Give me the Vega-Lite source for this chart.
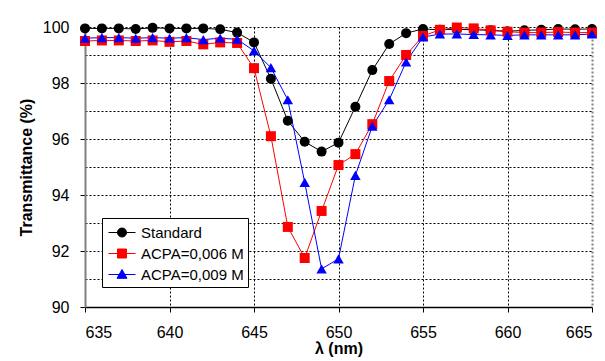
{
  "$schema": "https://vega.github.io/schema/vega-lite/v6.json",
  "width": 507,
  "height": 280,
  "autosize": "none",
  "padding": {"left": 85, "top": 27, "right": 13, "bottom": 54},
  "background": "white",
  "config": {
    "font": "Liberation Sans",
    "view": {"stroke": null},
    "axis": {"labelFont": "Liberation Sans", "titleFont": "Liberation Sans", "labelFontSize": 16, "titleFontSize": 16, "titleFontWeight": "bold", "labelColor": "black", "titleColor": "black"}
  },
  "data": {"values": [
    {"lambda": 635, "T": 99.95, "series": "Standard"},
    {"lambda": 636, "T": 99.95, "series": "Standard"},
    {"lambda": 637, "T": 99.95, "series": "Standard"},
    {"lambda": 638, "T": 99.93, "series": "Standard"},
    {"lambda": 639, "T": 99.97, "series": "Standard"},
    {"lambda": 640, "T": 99.95, "series": "Standard"},
    {"lambda": 641, "T": 99.95, "series": "Standard"},
    {"lambda": 642, "T": 99.95, "series": "Standard"},
    {"lambda": 643, "T": 99.92, "series": "Standard"},
    {"lambda": 644, "T": 99.8, "series": "Standard"},
    {"lambda": 645, "T": 99.45, "series": "Standard"},
    {"lambda": 646, "T": 98.15, "series": "Standard"},
    {"lambda": 647, "T": 96.65, "series": "Standard"},
    {"lambda": 648, "T": 95.9, "series": "Standard"},
    {"lambda": 649, "T": 95.55, "series": "Standard"},
    {"lambda": 650, "T": 95.87, "series": "Standard"},
    {"lambda": 651, "T": 97.15, "series": "Standard"},
    {"lambda": 652, "T": 98.46, "series": "Standard"},
    {"lambda": 653, "T": 99.39, "series": "Standard"},
    {"lambda": 654, "T": 99.78, "series": "Standard"},
    {"lambda": 655, "T": 99.93, "series": "Standard"},
    {"lambda": 656, "T": 99.9, "series": "Standard"},
    {"lambda": 657, "T": 99.92, "series": "Standard"},
    {"lambda": 658, "T": 99.9, "series": "Standard"},
    {"lambda": 659, "T": 99.88, "series": "Standard"},
    {"lambda": 660, "T": 99.85, "series": "Standard"},
    {"lambda": 661, "T": 99.88, "series": "Standard"},
    {"lambda": 662, "T": 99.9, "series": "Standard"},
    {"lambda": 663, "T": 99.93, "series": "Standard"},
    {"lambda": 664, "T": 99.92, "series": "Standard"},
    {"lambda": 665, "T": 99.93, "series": "Standard"},
    {"lambda": 635, "T": 99.5, "series": "ACPA=0,006 M"},
    {"lambda": 636, "T": 99.52, "series": "ACPA=0,006 M"},
    {"lambda": 637, "T": 99.52, "series": "ACPA=0,006 M"},
    {"lambda": 638, "T": 99.5, "series": "ACPA=0,006 M"},
    {"lambda": 639, "T": 99.52, "series": "ACPA=0,006 M"},
    {"lambda": 640, "T": 99.47, "series": "ACPA=0,006 M"},
    {"lambda": 641, "T": 99.5, "series": "ACPA=0,006 M"},
    {"lambda": 642, "T": 99.38, "series": "ACPA=0,006 M"},
    {"lambda": 643, "T": 99.45, "series": "ACPA=0,006 M"},
    {"lambda": 644, "T": 99.43, "series": "ACPA=0,006 M"},
    {"lambda": 645, "T": 98.53, "series": "ACPA=0,006 M"},
    {"lambda": 646, "T": 96.1, "series": "ACPA=0,006 M"},
    {"lambda": 647, "T": 92.86, "series": "ACPA=0,006 M"},
    {"lambda": 648, "T": 91.75, "series": "ACPA=0,006 M"},
    {"lambda": 649, "T": 93.43, "series": "ACPA=0,006 M"},
    {"lambda": 650, "T": 95.07, "series": "ACPA=0,006 M"},
    {"lambda": 651, "T": 95.46, "series": "ACPA=0,006 M"},
    {"lambda": 652, "T": 96.53, "series": "ACPA=0,006 M"},
    {"lambda": 653, "T": 98.07, "series": "ACPA=0,006 M"},
    {"lambda": 654, "T": 99.0, "series": "ACPA=0,006 M"},
    {"lambda": 655, "T": 99.68, "series": "ACPA=0,006 M"},
    {"lambda": 656, "T": 99.9, "series": "ACPA=0,006 M"},
    {"lambda": 657, "T": 99.98, "series": "ACPA=0,006 M"},
    {"lambda": 658, "T": 99.95, "series": "ACPA=0,006 M"},
    {"lambda": 659, "T": 99.88, "series": "ACPA=0,006 M"},
    {"lambda": 660, "T": 99.83, "series": "ACPA=0,006 M"},
    {"lambda": 661, "T": 99.8, "series": "ACPA=0,006 M"},
    {"lambda": 662, "T": 99.8, "series": "ACPA=0,006 M"},
    {"lambda": 663, "T": 99.82, "series": "ACPA=0,006 M"},
    {"lambda": 664, "T": 99.8, "series": "ACPA=0,006 M"},
    {"lambda": 665, "T": 99.8, "series": "ACPA=0,006 M"},
    {"lambda": 635, "T": 99.6, "series": "ACPA=0,009 M"},
    {"lambda": 636, "T": 99.62, "series": "ACPA=0,009 M"},
    {"lambda": 637, "T": 99.62, "series": "ACPA=0,009 M"},
    {"lambda": 638, "T": 99.6, "series": "ACPA=0,009 M"},
    {"lambda": 639, "T": 99.62, "series": "ACPA=0,009 M"},
    {"lambda": 640, "T": 99.6, "series": "ACPA=0,009 M"},
    {"lambda": 641, "T": 99.62, "series": "ACPA=0,009 M"},
    {"lambda": 642, "T": 99.55, "series": "ACPA=0,009 M"},
    {"lambda": 643, "T": 99.6, "series": "ACPA=0,009 M"},
    {"lambda": 644, "T": 99.56, "series": "ACPA=0,009 M"},
    {"lambda": 645, "T": 99.15, "series": "ACPA=0,009 M"},
    {"lambda": 646, "T": 98.55, "series": "ACPA=0,009 M"},
    {"lambda": 647, "T": 97.4, "series": "ACPA=0,009 M"},
    {"lambda": 648, "T": 94.45, "series": "ACPA=0,009 M"},
    {"lambda": 649, "T": 91.36, "series": "ACPA=0,009 M"},
    {"lambda": 650, "T": 91.72, "series": "ACPA=0,009 M"},
    {"lambda": 651, "T": 94.7, "series": "ACPA=0,009 M"},
    {"lambda": 652, "T": 96.46, "series": "ACPA=0,009 M"},
    {"lambda": 653, "T": 97.4, "series": "ACPA=0,009 M"},
    {"lambda": 654, "T": 98.75, "series": "ACPA=0,009 M"},
    {"lambda": 655, "T": 99.64, "series": "ACPA=0,009 M"},
    {"lambda": 656, "T": 99.75, "series": "ACPA=0,009 M"},
    {"lambda": 657, "T": 99.75, "series": "ACPA=0,009 M"},
    {"lambda": 658, "T": 99.73, "series": "ACPA=0,009 M"},
    {"lambda": 659, "T": 99.72, "series": "ACPA=0,009 M"},
    {"lambda": 660, "T": 99.7, "series": "ACPA=0,009 M"},
    {"lambda": 661, "T": 99.72, "series": "ACPA=0,009 M"},
    {"lambda": 662, "T": 99.72, "series": "ACPA=0,009 M"},
    {"lambda": 663, "T": 99.72, "series": "ACPA=0,009 M"},
    {"lambda": 664, "T": 99.72, "series": "ACPA=0,009 M"},
    {"lambda": 665, "T": 99.75, "series": "ACPA=0,009 M"}
  ]},
  "encoding": {
    "x": {"field": "lambda", "type": "quantitative", "title": "λ (nm)",
      "scale": {"domain": [635, 665], "nice": false, "zero": false},
      "axis": {"values": [635, 640, 645, 650, 655, 660, 665], "domainColor": "black", "domainWidth": 1.5, "tickColor": "black", "tickSize": 5, "labelPadding": 12, "titlePadding": 0,
        "grid": true, "gridColor": {"condition": {"test": "datum.value === 665", "value": "#808080"}, "value": "black"}, "gridWidth": {"condition": {"test": "datum.value === 665", "value": 2}, "value": 1}, "gridDash": [2, 2]}},
    "y": {"field": "T", "type": "quantitative", "title": "Transmittance (%)",
      "scale": {"domain": [90, 100], "nice": false, "zero": false},
      "axis": {"values": [90, 91, 92, 93, 94, 95, 96, 97, 98, 99, 100], "labelExpr": "datum.value % 2 === 0 ? datum.label : ''",
        "domainColor": "#808080", "domainWidth": 2, "tickColor": "black", "tickOpacity": {"condition": {"test": "datum.value % 2 === 0", "value": 1}, "value": 0}, "tickSize": 5, "labelPadding": 11, "titlePadding": 8,
        "grid": true, "gridColor": "black", "gridDash": [2, 2], "gridWidth": 1}},
    "color": {"field": "series", "type": "nominal",
      "scale": {"domain": ["Standard", "ACPA=0,006 M", "ACPA=0,009 M"], "range": ["#000000", "#ff0000", "#0000ff"]},
      "legend": {"title": null, "orient": "none", "legendX": 17, "legendY": 191, "strokeColor": "black", "fillColor": "white", "padding": 4,
        "labelFont": "Liberation Sans", "labelFontSize": 15, "labelColor": "black", "symbolSize": 400, "rowPadding": 2, "labelOffset": 14,
        "encode": {"symbols": {"update": {
          "shape": {"signal": "datum.value === 'Standard' ? 'M-0.8,0H1.9M0.1,0A0.45,0.45 0 1,1 1,0A0.45,0.45 0 1,1 0.1,0Z' : datum.value === 'ACPA=0,006 M' ? 'M-0.8,0H1.9M0.1,-0.45H1V0.45H0.1Z' : 'M-0.8,0H1.9M0.55,-0.5L1.05,0.38H0.05Z'"},
          "fill": {"signal": "scale('color', datum.value)"},
          "stroke": {"signal": "scale('color', datum.value)"},
          "strokeWidth": {"value": 1},
          "size": {"value": 400},
          "opacity": {"value": 1}
        }}}}
    }
  },
  "layer": [
    {"mark": {"type": "line", "strokeWidth": 1}},
    {"transform": [{"filter": "datum.series === 'Standard'"}],
      "mark": {"type": "point", "filled": true, "opacity": 1, "size": 100, "shape": "circle"}},
    {"transform": [{"filter": "datum.series === 'ACPA=0,006 M'"}],
      "mark": {"type": "point", "filled": true, "opacity": 1, "size": 100, "shape": "square"}},
    {"transform": [{"filter": "datum.series === 'ACPA=0,009 M'"}],
      "mark": {"type": "point", "filled": true, "opacity": 1, "size": 110, "shape": "triangle-up"}}
  ]
}
